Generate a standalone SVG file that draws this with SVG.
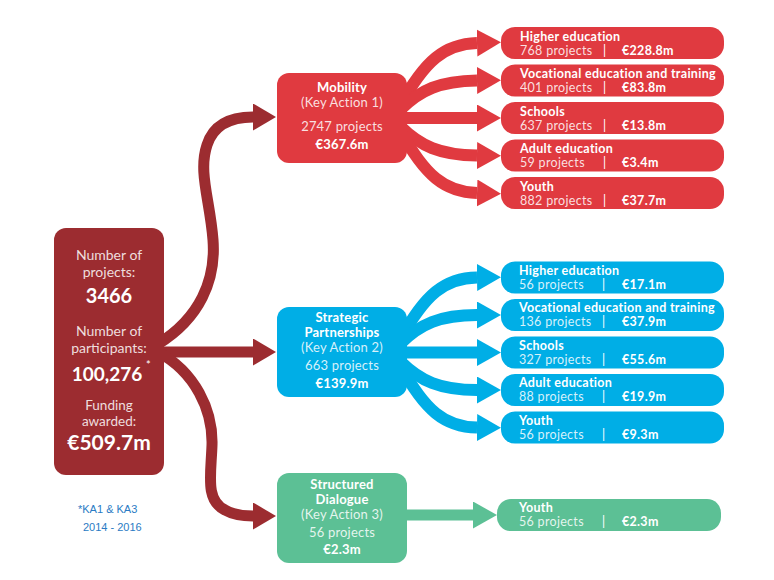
<svg xmlns="http://www.w3.org/2000/svg" width="774" height="580" viewBox="0 0 774 580">
<defs>
<style>
text{font-family:Lato,"Open Sans","Liberation Sans",sans-serif;}
.w{fill:#ffffff;}
.l{fill:#ffffff;fill-opacity:0.85;}
.b{font-weight:bold;}
.c{text-anchor:middle;}
.s13{font-size:13px;letter-spacing:0.2px;}
.s12{font-size:12.5px;letter-spacing:0.3px;}
.red{fill:#e03a40;}
.blue{fill:#00aee6;}
.green{fill:#5cc095;}
.dark{fill:#9c2c30;}
.fan-r{fill:none;stroke:#e03a40;stroke-width:12;}
.fan-b{fill:none;stroke:#00aee6;stroke-width:12;}
.fan-g{fill:none;stroke:#5cc095;stroke-width:11;}
.fan-d{fill:none;stroke:#9c2c30;stroke-width:11;}
.note{font-family:"Liberation Sans",Arial,sans-serif;font-size:11px;fill:#2a7bc4;}
</style>
<marker id="ar" markerUnits="userSpaceOnUse" markerWidth="25" markerHeight="28" refX="0" refY="13.5" orient="auto"><path d="M0,0 L24,13.5 L0,27 Z" fill="#e03a40"/></marker>
<marker id="ab" markerUnits="userSpaceOnUse" markerWidth="25" markerHeight="28" refX="0" refY="13.5" orient="auto"><path d="M0,0 L24,13.5 L0,27 Z" fill="#00aee6"/></marker>
<marker id="ag" markerUnits="userSpaceOnUse" markerWidth="25" markerHeight="28" refX="0" refY="13.5" orient="auto"><path d="M0,0 L24,13.5 L0,27 Z" fill="#5cc095"/></marker>
<marker id="ad" markerUnits="userSpaceOnUse" markerWidth="25" markerHeight="28" refX="0" refY="13.5" orient="auto"><path d="M0,0 L23,13.5 L0,27 Z" fill="#9c2c30"/></marker>
</defs>

<g id="connectors">
<path class="fan-d" d="M158 344 C200 318 216 280 213 240 C210 200 198 172 207 145 C213 126 228 117 253 117" marker-end="url(#ad)"/>
<path class="fan-d" d="M158 352 L253 352" marker-end="url(#ad)"/>
<path class="fan-d" d="M158 352 C195 372 213 410 212 445 C211 475 205 500 225 510 C232 514 240 516 253 516" marker-end="url(#ad)"/>

<path class="fan-r" d="M400 106 C425 60 445 44 477 43" marker-end="url(#ar)"/>
<path class="fan-r" d="M400 110 C420 90 440 81 477 80.5" marker-end="url(#ar)"/>
<path class="fan-r" d="M400 118 L477 118" marker-end="url(#ar)"/>
<path class="fan-r" d="M400 126 C420 146 440 155 477 155.5" marker-end="url(#ar)"/>
<path class="fan-r" d="M400 130 C425 176 445 192 477 193" marker-end="url(#ar)"/>

<path class="fan-b" d="M400 340 C425 294 445 278 477 277.5" marker-end="url(#ab)"/>
<path class="fan-b" d="M400 344 C420 324 440 315 477 315" marker-end="url(#ab)"/>
<path class="fan-b" d="M400 352.5 L477 352.5" marker-end="url(#ab)"/>
<path class="fan-b" d="M400 361 C420 381 440 390 477 390" marker-end="url(#ab)"/>
<path class="fan-b" d="M400 365 C425 411 445 427 477 427.5" marker-end="url(#ab)"/>

<path class="fan-g" d="M400 515 L473 515" marker-end="url(#ag)"/>
</g>

<g id="total">
<rect class="dark" x="54" y="228" width="110" height="247" rx="12"/>
<text class="l c" x="109" y="260" font-size="14">Number of</text>
<text class="l c" x="109" y="277" font-size="14">projects:</text>
<text class="w c b" x="109" y="303" font-size="20">3466</text>
<text class="l c" x="109" y="336" font-size="14">Number of</text>
<text class="l c" x="109" y="353" font-size="14">participants:</text>
<text class="w c b" x="107" y="381" font-size="19">100,276</text>
<text class="w" x="146" y="369" font-size="11">*</text>
<text class="l c" x="109" y="410" font-size="13.5">Funding</text>
<text class="l c" x="109" y="426" font-size="13.5">awarded:</text>
<text class="w c b" x="109" y="450" font-size="21">€509.7m</text>
</g>

<g id="footnote">
<text class="note" x="78" y="513">*KA1 &amp; KA3</text>
<text class="note" x="83" y="531">2014 - 2016</text>
</g>

<g id="mobility">
<rect class="red" x="277" y="73" width="130" height="90" rx="12"/>
<text class="w c b s13" x="342" y="92">Mobility</text>
<text class="l c s13" x="342" y="107">(Key Action 1)</text>
<text class="l c s13" x="342" y="131">2747 projects</text>
<text class="w c b s13" x="342" y="149">€367.6m</text>
</g>

<g id="strategic">
<rect class="blue" x="277" y="307" width="130" height="90" rx="12"/>
<text class="w c b s13" x="342" y="322">Strategic</text>
<text class="w c b s13" x="342" y="337">Partnerships</text>
<text class="l c s13" x="342" y="352">(Key Action 2)</text>
<text class="l c s13" x="342" y="370">663 projects</text>
<text class="w c b s13" x="342" y="388">€139.9m</text>
</g>

<g id="dialogue">
<rect class="green" x="277" y="473" width="130" height="90" rx="12"/>
<text class="w c b s13" x="342" y="489">Structured</text>
<text class="w c b s13" x="342" y="504">Dialogue</text>
<text class="l c s13" x="342" y="519">(Key Action 3)</text>
<text class="l c s13" x="342" y="537">56 projects</text>
<text class="w c b s13" x="342" y="554">€2.3m</text>
</g>

<g id="ka1-he">
<rect class="red" x="501" y="27" width="223" height="32" rx="14"/>
<text class="w b s12" x="520" y="40.5">Higher education</text>
<text class="l s12" x="520" y="54.5">768 projects</text><text class="w s12" x="603" y="54.5">|</text><text class="w b s12" x="622" y="54.5">€228.8m</text>
</g>
<g id="ka1-vet">
<rect class="red" x="501" y="64.5" width="223" height="32" rx="14"/>
<text class="w b s12" x="520" y="78">Vocational education and training</text>
<text class="l s12" x="520" y="92">401 projects</text><text class="w s12" x="603" y="92">|</text><text class="w b s12" x="622" y="92">€83.8m</text>
</g>
<g id="ka1-schools">
<rect class="red" x="501" y="102" width="223" height="32" rx="14"/>
<text class="w b s12" x="520" y="115.5">Schools</text>
<text class="l s12" x="520" y="129.5">637 projects</text><text class="w s12" x="603" y="129.5">|</text><text class="w b s12" x="622" y="129.5">€13.8m</text>
</g>
<g id="ka1-adult">
<rect class="red" x="501" y="139.5" width="223" height="32" rx="14"/>
<text class="w b s12" x="520" y="153">Adult education</text>
<text class="l s12" x="520" y="167">59 projects</text><text class="w s12" x="603" y="167">|</text><text class="w b s12" x="622" y="167">€3.4m</text>
</g>
<g id="ka1-youth">
<rect class="red" x="501" y="177" width="223" height="32" rx="14"/>
<text class="w b s12" x="520" y="190.5">Youth</text>
<text class="l s12" x="520" y="204.5">882 projects</text><text class="w s12" x="603" y="204.5">|</text><text class="w b s12" x="622" y="204.5">€37.7m</text>
</g>

<g id="ka2-he">
<rect class="blue" x="501" y="261.5" width="223" height="32" rx="14"/>
<text class="w b s12" x="519" y="274.5">Higher education</text>
<text class="l s12" x="519" y="288.5">56 projects</text><text class="w s12" x="602" y="288.5">|</text><text class="w b s12" x="622" y="288.5">€17.1m</text>
</g>
<g id="ka2-vet">
<rect class="blue" x="501" y="299" width="223" height="32" rx="14"/>
<text class="w b s12" x="519" y="312">Vocational education and training</text>
<text class="l s12" x="519" y="326">136 projects</text><text class="w s12" x="602" y="326">|</text><text class="w b s12" x="622" y="326">€37.9m</text>
</g>
<g id="ka2-schools">
<rect class="blue" x="501" y="336.5" width="223" height="32" rx="14"/>
<text class="w b s12" x="519" y="349.5">Schools</text>
<text class="l s12" x="519" y="363.5">327 projects</text><text class="w s12" x="602" y="363.5">|</text><text class="w b s12" x="622" y="363.5">€55.6m</text>
</g>
<g id="ka2-adult">
<rect class="blue" x="501" y="374" width="223" height="32" rx="14"/>
<text class="w b s12" x="519" y="387">Adult education</text>
<text class="l s12" x="519" y="401">88 projects</text><text class="w s12" x="602" y="401">|</text><text class="w b s12" x="622" y="401">€19.9m</text>
</g>
<g id="ka2-youth">
<rect class="blue" x="501" y="411.5" width="223" height="32" rx="14"/>
<text class="w b s12" x="519" y="424.5">Youth</text>
<text class="l s12" x="519" y="438.5">56 projects</text><text class="w s12" x="602" y="438.5">|</text><text class="w b s12" x="622" y="438.5">€9.3m</text>
</g>

<g id="ka3-youth">
<rect class="green" x="497" y="499" width="224" height="32" rx="14"/>
<text class="w b s12" x="519" y="512">Youth</text>
<text class="l s12" x="519" y="526">56 projects</text><text class="w s12" x="602" y="526">|</text><text class="w b s12" x="622" y="526">€2.3m</text>
</g>
</svg>
